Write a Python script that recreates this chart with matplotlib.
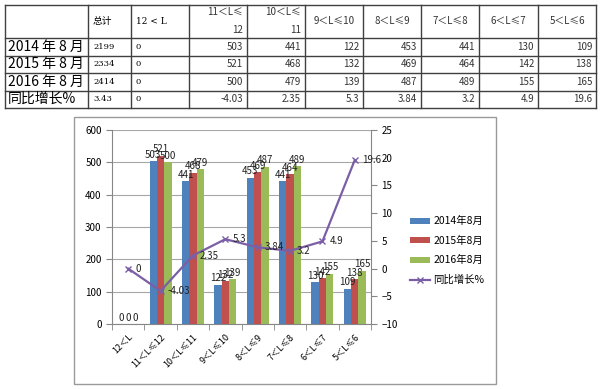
import numpy as np
import matplotlib.pyplot as plt
from matplotlib.lines import Line2D
from matplotlib.patches import Rectangle

plt.rcParams['font.family'] = ['Noto Sans CJK SC', 'DejaVu Sans']

# data
categories = ['12＜L', '11＜L≤12', '10＜L≤11', '9＜L≤10', '8＜L≤9', '7＜L≤8', '6＜L≤7', '5＜L≤6']
series_names = ['2014年8月', '2015年8月', '2016年8月']
row_labels = ['2014 年 8 月', '2015 年 8 月', '2016 年 8 月', '同比增长%']
totals = ['2199', '2334', '2414', '3.43']
v2014 = [0, 503, 441, 122, 453, 441, 130, 109]
v2015 = [0, 521, 468, 132, 469, 464, 142, 138]
v2016 = [0, 500, 479, 139, 487, 489, 155, 165]
growth = [0, -4.03, 2.35, 5.3, 3.84, 3.2, 4.9, 19.6]
growth_text = ['0', '-4.03', '2.35', '5.3', '3.84', '3.2', '4.9', '19.6']
head_lines = [['12 < L'], ['11＜L≤', '12'], ['10＜L≤', '11'], ['9＜L≤10'], ['8＜L≤9'],
              ['7＜L≤8'], ['6＜L≤7'], ['5＜L≤6']]

colors = ['#4F81BD', '#C0504D', '#9BBB59']
line_color = '#7B5FA6'

W, H = 600, 389
fig = plt.figure(figsize=(6, 3.89), dpi=100)


def fx(px):
    return px / W


def fy(py):
    return 1 - py / H


# ---------------- table on top ----------------
col_x = [5, 88, 131, 189, 247, 305, 363, 421, 479, 538, 596]
row_y = [5, 38, 55.5, 73, 90.5, 108]
tc = '#404040'
for x in col_x:
    fig.add_artist(Line2D([fx(x), fx(x)], [fy(row_y[0]), fy(row_y[-1])], color=tc, lw=1))
for y in row_y:
    fig.add_artist(Line2D([fx(col_x[0]), fx(col_x[-1])], [fy(y), fy(y)], color=tc, lw=1))

fig.text(fx(col_x[1] + 5), fy(21), '总计', fontsize=7, va='center', ha='left')
for j, lines in enumerate(head_lines):
    left, right = col_x[j + 2], col_x[j + 3]
    if j == 0:
        fig.text(fx(left + 5), fy(21), lines[0], fontsize=6.5, va='center', ha='left',
                 family='DejaVu Serif')
    elif len(lines) == 2:
        fig.text(fx(right - 4), fy(12), lines[0], fontsize=7, va='center', ha='right', color='#333333')
        fig.text(fx(right - 4), fy(30), lines[1], fontsize=7, va='center', ha='right', color='#333333')
    else:
        fig.text(fx((left + right) / 2), fy(21), lines[0], fontsize=7, va='center', ha='center',
                 color='#333333')

table_rows = [v2014, v2015, v2016]
for i in range(4):
    yc = (row_y[i + 1] + row_y[i + 2]) / 2
    fig.text(fx(8), fy(yc), row_labels[i], fontsize=10, va='center', ha='left')
    fig.text(fx(col_x[1] + 5), fy(yc), totals[i], fontsize=6, va='center', ha='left',
             family='DejaVu Serif')
    if i < 3:
        vals = [str(v) for v in table_rows[i]]
    else:
        vals = [str(g) for g in growth_text]
    fig.text(fx(col_x[2] + 5), fy(yc), vals[0], fontsize=6, va='center', ha='left',
             family='DejaVu Serif')
    for j in range(1, 8):
        fig.text(fx(col_x[j + 3] - 4), fy(yc), vals[j], fontsize=7, va='center', ha='right',
                 color='#333333')

# ---------------- chart box ----------------
fig.add_artist(Rectangle((fx(74), fy(384)), fx(496) - fx(74), fy(117) - fy(384),
                         fill=False, edgecolor='#9a9a9a', lw=1))

ax = fig.add_axes([fx(112), fy(324), fx(371) - fx(112), fy(130) - fy(324)])
x = np.arange(len(categories))
w = 0.227
for k, vals in enumerate([v2014, v2015, v2016]):
    bars = ax.bar(x + (k - 1) * w, vals, w, color=colors[k], label=series_names[k], zorder=2)
    ax.bar_label(bars, labels=[str(v) for v in vals], fontsize=7, padding=1, color='#222222')

ax.set_xlim(-0.5, len(categories) - 0.5)
ax.set_ylim(0, 600)
ax.set_yticks(range(0, 601, 100))
ax.yaxis.grid(True, color='#a6a6a6', lw=0.8)
ax.set_axisbelow(True)
ax.set_xticks(x)
ax.set_xticklabels(categories, rotation=45, ha='right', rotation_mode='anchor', fontsize=6.5)
ax.set_xticks(np.arange(-0.5, len(categories), 1), minor=True)
ax.tick_params(axis='x', which='major', length=0, pad=6)
ax.tick_params(axis='x', which='minor', length=4, color='#868686')
ax.tick_params(axis='y', length=4, color='#868686', labelsize=7)
for s in ['top', 'right']:
    ax.spines[s].set_visible(False)
ax.spines['left'].set_color('#868686')
ax.spines['bottom'].set_color('#868686')

ax2 = ax.twinx()
ax2.plot(x, growth, color=line_color, lw=1.6, marker='x', markersize=5, label='同比增长%')
for xi, g, t in zip(x, growth, growth_text):
    ax2.annotate(t, (xi, g), xytext=(5, 0), textcoords='offset points', fontsize=7,
                 va='center', ha='left', color='#222222')
ax2.set_ylim(-10, 25)
ax2.set_yticks(range(-10, 26, 5))
ax2.tick_params(axis='y', length=4, color='#868686', labelsize=7)
for s in ['top', 'left', 'bottom']:
    ax2.spines[s].set_visible(False)
ax2.spines['right'].set_color('#868686')

h1, l1 = ax.get_legend_handles_labels()
h2, l2 = ax2.get_legend_handles_labels()
fig.legend(h1 + h2, l1 + l2, loc='upper left', bbox_to_anchor=(fx(406), fy(212)),
           frameon=False, fontsize=7.5, handlelength=1.9, handleheight=0.5,
           handletextpad=0.3, labelspacing=0.9, borderaxespad=0)

fig.savefig('out.png', dpi=100)
